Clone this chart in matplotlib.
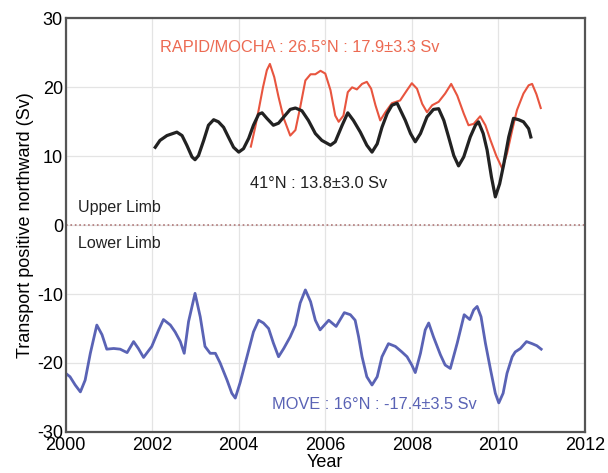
import matplotlib.pyplot as plt

plt.rcParams['font.family'] = ['Liberation Sans', 'DejaVu Sans']
plt.rcParams['axes.unicode_minus'] = False

# 41N (black)
n41_year = [2002.07, 2002.18, 2002.34, 2002.57, 2002.69, 2002.80, 2002.92, 2002.99, 2003.07,
            2003.19, 2003.30, 2003.42, 2003.53, 2003.65, 2003.76, 2003.88, 2004.00, 2004.11,
            2004.23, 2004.34, 2004.46, 2004.54, 2004.65, 2004.80, 2004.92, 2005.04, 2005.19,
            2005.31, 2005.46, 2005.61, 2005.77, 2005.92, 2006.12, 2006.23, 2006.39, 2006.52,
            2006.65, 2006.81, 2006.96, 2007.08, 2007.20, 2007.31, 2007.43, 2007.54, 2007.66,
            2007.85, 2007.97, 2008.08, 2008.20, 2008.35, 2008.50, 2008.62, 2008.74, 2008.85,
            2008.97, 2009.08, 2009.20, 2009.35, 2009.47, 2009.54, 2009.65, 2009.74, 2009.84,
            2009.93, 2010.03, 2010.12, 2010.24, 2010.35, 2010.47, 2010.58, 2010.70, 2010.75]
n41_sv = [11.3, 12.3, 13.0, 13.5, 13.0, 11.6, 9.9, 9.5, 10.1,
          12.3, 14.5, 15.3, 15.0, 14.2, 12.8, 11.3, 10.6, 11.1,
          12.6, 14.5, 16.1, 16.3, 15.5, 14.5, 14.8, 15.7, 16.8,
          17.0, 16.6, 15.2, 13.3, 12.3, 11.6, 12.1, 14.5, 16.3,
          15.2, 13.5, 11.6, 10.6, 11.8, 14.2, 16.2, 17.4, 17.7,
          15.2, 13.3, 12.1, 13.3, 15.7, 16.8, 16.9, 15.2, 12.8,
          10.1, 8.6, 9.9, 12.8, 14.5, 15.0, 13.3, 10.9, 7.0,
          4.1, 6.0, 8.7, 12.8, 15.5, 15.3, 15.0, 14.0, 12.8]

# RAPID/MOCHA 26.5N (red)
rapid_year = [2004.28, 2004.38, 2004.46, 2004.56, 2004.65, 2004.72, 2004.82, 2004.92, 2005.04,
              2005.19, 2005.31, 2005.42, 2005.54, 2005.66, 2005.77, 2005.89, 2006.00, 2006.12,
              2006.23, 2006.31, 2006.42, 2006.52, 2006.62, 2006.73, 2006.85, 2006.96, 2007.06,
              2007.16, 2007.27, 2007.39, 2007.54, 2007.73, 2007.89, 2008.00, 2008.12, 2008.24,
              2008.35, 2008.47, 2008.62, 2008.77, 2008.91, 2009.05, 2009.20, 2009.31, 2009.43,
              2009.58, 2009.70, 2009.82, 2009.95, 2010.09, 2010.20, 2010.32, 2010.43, 2010.58,
              2010.70, 2010.78, 2010.88, 2010.98]
rapid_sv = [11.4, 14.2, 16.7, 20.0, 22.5, 23.4, 21.5, 18.6, 15.5,
            13.0, 13.8, 17.1, 21.0, 21.9, 21.9, 22.4, 22.0, 19.6,
            15.9, 15.0, 15.9, 19.3, 20.0, 19.7, 20.5, 20.8, 19.8,
            17.4, 15.2, 16.4, 17.7, 18.1, 19.6, 20.6, 19.8, 17.6,
            16.4, 17.4, 17.9, 19.1, 20.5, 18.8, 16.2, 14.5, 14.7,
            15.8, 14.5, 12.3, 10.1, 8.2, 10.4, 13.8, 16.7, 19.1,
            20.3, 20.5, 19.0, 17.0]

# MOVE 16N (blue)
move_year = [2000.02, 2000.10, 2000.22, 2000.34, 2000.45, 2000.57, 2000.72, 2000.84, 2000.95,
             2001.11, 2001.26, 2001.42, 2001.57, 2001.68, 2001.80, 2001.99, 2002.15, 2002.26,
             2002.42, 2002.53, 2002.65, 2002.74, 2002.84, 2002.99, 2003.11, 2003.22, 2003.34,
             2003.46, 2003.57, 2003.73, 2003.84, 2003.92, 2004.03, 2004.19, 2004.34, 2004.46,
             2004.57, 2004.69, 2004.80, 2004.92, 2005.04, 2005.19, 2005.31, 2005.42, 2005.54,
             2005.66, 2005.77, 2005.88, 2006.08, 2006.25, 2006.44, 2006.58, 2006.69, 2006.77,
             2006.85, 2006.96, 2007.08, 2007.20, 2007.31, 2007.46, 2007.62, 2007.77, 2007.89,
             2008.00, 2008.08, 2008.20, 2008.31, 2008.39, 2008.50, 2008.66, 2008.77, 2008.89,
             2009.05, 2009.21, 2009.34, 2009.43, 2009.51, 2009.60, 2009.70, 2009.82, 2009.93,
             2010.01, 2010.11, 2010.20, 2010.32, 2010.39, 2010.51, 2010.65, 2010.78, 2010.89,
             2010.99]
move_sv = [-21.6, -22.0, -23.2, -24.2, -22.5, -18.6, -14.5, -15.9, -18.0,
           -17.9, -18.0, -18.5, -16.9, -17.9, -19.2, -17.6, -15.2, -13.7,
           -14.5, -15.5, -16.9, -18.6, -14.0, -9.9, -13.3, -17.6, -18.6,
           -18.6, -20.0, -22.5, -24.4, -25.1, -22.9, -19.1, -15.5, -13.8,
           -14.2, -15.0, -17.1, -19.1, -17.9, -16.2, -14.5, -11.3, -9.4,
           -11.1, -13.8, -15.2, -13.8, -14.7, -12.7, -13.0, -13.8, -16.2,
           -19.1, -22.0, -23.2, -22.0, -19.1, -17.2, -17.6, -18.4, -19.1,
           -20.3, -21.4, -18.6, -15.2, -14.2, -16.2, -18.8, -20.3, -20.8,
           -17.1, -13.0, -13.7, -12.3, -11.8, -13.3, -17.1, -21.0, -24.4,
           -25.8, -24.4, -21.5, -19.1, -18.4, -17.9, -16.9, -17.2, -17.5,
           -18.0]

x_ticks = [2000, 2002, 2004, 2006, 2008, 2010, 2012]
y_ticks = [-30, -20, -10, 0, 10, 20, 30]

fig = plt.figure(figsize=(6.08, 4.73), dpi=100)
ax = fig.add_axes([0.108, 0.087, 0.854, 0.874])

ax.grid(True, color='#e4e4e4', lw=0.9)
ax.set_axisbelow(True)

ax.axhline(0, color='#b07878', lw=1.2, ls=':')

ax.plot(move_year, move_sv, color='#5a63b5', lw=2.0, solid_joinstyle='round')
ax.plot(rapid_year, rapid_sv, color='#e8553f', lw=1.5, solid_joinstyle='round')
ax.plot(n41_year, n41_sv, color='#222222', lw=2.3, solid_joinstyle='round')

ax.text(2005.42, 25.8, 'RAPID/MOCHA : 26.5°N : 17.9±3.3 Sv', color='#ec6a52',
        fontsize=11.8, ha='center', va='center')
ax.text(2005.85, 6.1, '41°N : 13.8±3.0 Sv', color='#222222',
        fontsize=11.8, ha='center', va='center')
ax.text(2000.28, 2.6, 'Upper Limb', color='#222222', fontsize=11.5, ha='left', va='center')
ax.text(2000.28, -2.6, 'Lower Limb', color='#222222', fontsize=11.5, ha='left', va='center')
ax.text(2007.13, -26.1, 'MOVE : 16°N : -17.4±3.5 Sv', color='#5a63b5',
        fontsize=11.8, ha='center', va='center')

ax.set_xlim(2000, 2012)
ax.set_ylim(-30, 30)
ax.set_xticks(x_ticks)
ax.set_yticks(y_ticks)
ax.tick_params(length=0, labelsize=13)
ax.tick_params(axis='x', pad=4)
ax.tick_params(axis='y', pad=2)
for s in ax.spines.values():
    s.set_color('#555555')
    s.set_linewidth(1.6)

ax.set_xlabel('Year', fontsize=13, labelpad=0)
ax.set_ylabel('Transport positive northward (Sv)', fontsize=13, labelpad=2)

fig.savefig('out.png', dpi=100)
